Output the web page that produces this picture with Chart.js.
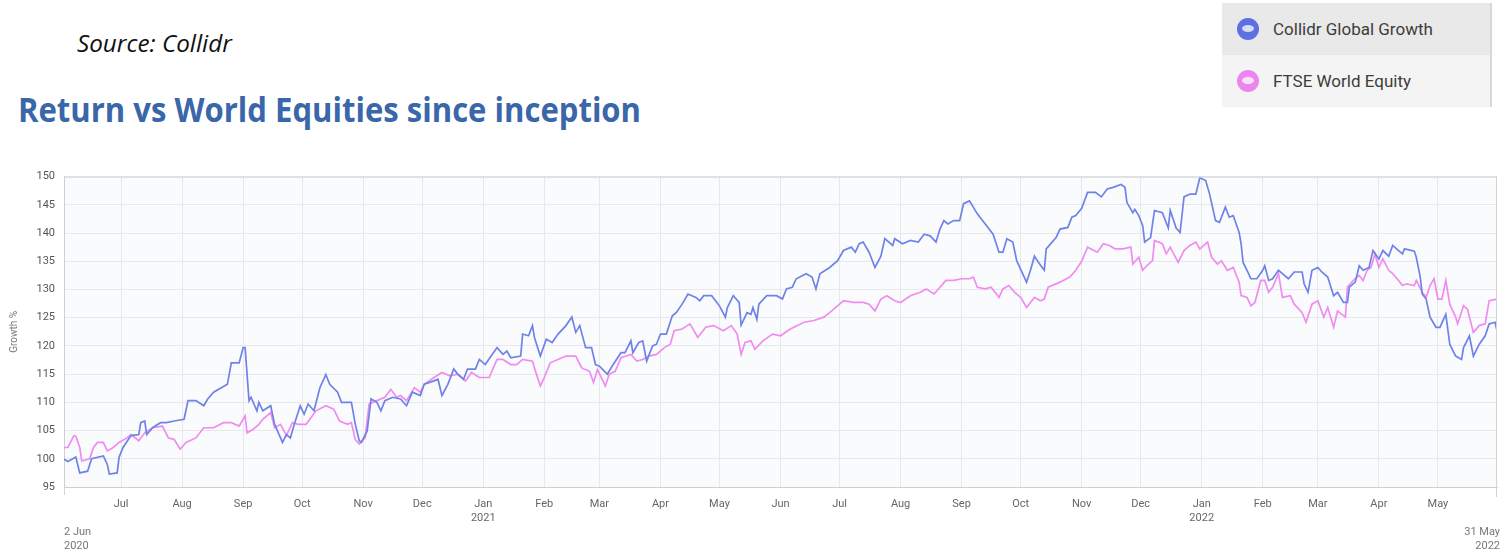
<!DOCTYPE html>
<html>
<head>
<meta charset="utf-8">
<script src="https://cdn.jsdelivr.net/npm/chart.js@4.4.1/dist/chart.umd.min.js"></script>
<style>
  body { margin: 0; width: 1507px; height: 550px; background: #fff; position: relative; overflow: hidden; font-family: Roboto, "Noto Sans", sans-serif; }
  .fit { position: absolute; white-space: nowrap; transform-origin: 0 0; line-height: 1; }
  #source { left: 77px; top: 27px; font: italic 23px "Open Sans", sans-serif; color: #111; }
  #title { left: 18px; top: 86px; font: bold 34px "Open Sans", sans-serif; color: #3a66aa; }
  #legend { position: absolute; left: 1222px; top: 3px; width: 268px; height: 104px; background: #f4f4f4; border-right: 2px solid #d8d8d8; }
  .row { height: 52px; display: flex; align-items: center; font-size: 17px; color: #3c3c3c; }
  .row:first-child { background: #e9e9e9; }
  .dot { width: 22px; height: 22px; border-radius: 50%; margin: 0 14px 0 15px; position: relative; }
  .dot::after { content: ""; position: absolute; left: 5px; top: 7px; width: 12px; height: 7px; border-radius: 50%; background: rgba(255,255,255,0.75); }
  #wrap { position: absolute; left: 0; top: 161px; width: 1507px; height: 389px; }
</style>
</head>
<body>
<div id="source" class="fit">Source: Collidr</div>
<div id="title" class="fit">Return vs World Equities since inception</div>
<div id="legend">
  <div class="row"><span class="dot" style="background:#5c70e2"></span>Collidr Global Growth</div>
  <div class="row"><span class="dot" style="background:#ea86ec"></span>FTSE World Equity</div>
</div>
<div id="wrap"><canvas id="chart"></canvas></div>
<script>
// days since 2 Jun 2020
const growthDays = [0, 2, 6, 8, 12, 14, 20, 22, 23, 27, 28, 30, 34, 38, 39, 41, 42, 45, 49, 52, 56, 61, 63, 67, 71, 73, 76, 79, 83, 85, 89, 91, 92, 94, 95, 98, 99, 101, 105, 107, 111, 113, 115, 117, 120, 122, 124, 127, 130, 133, 135, 139, 141, 146, 148, 150, 151, 154, 156, 159, 161, 163, 167, 171, 174, 177, 181, 183, 188, 190, 192, 195, 198, 200, 203, 205, 209, 211, 214, 217, 220, 223, 225, 227, 232, 233, 236, 238, 239, 242, 245, 248, 251, 255, 258, 260, 262, 265, 268, 270, 272, 276, 279, 283, 285, 288, 289, 292, 294, 296, 299, 301, 303, 306, 309, 311, 314, 317, 321, 323, 325, 329, 333, 336, 337, 340, 343, 344, 347, 349, 350, 352, 353, 357, 362, 365, 367, 370, 372, 377, 380, 382, 384, 389, 393, 396, 400, 402, 404, 406, 409, 412, 415, 417, 421, 422, 426, 430, 434, 437, 440, 443, 445, 447, 449, 452, 455, 457, 460, 464, 468, 472, 475, 477, 479, 482, 484, 487, 489, 491, 493, 495, 498, 499, 504, 506, 510, 512, 514, 517, 520, 524, 527, 530, 533, 537, 539, 540, 543, 544, 546, 548, 549, 552, 554, 558, 561, 562, 565, 567, 569, 572, 575, 577, 580, 582, 585, 587, 590, 592, 594, 597, 598, 599, 601, 603, 606, 609, 610, 612, 614, 617, 619, 622, 625, 629, 630, 632, 634, 637, 639, 642, 645, 647, 650, 652, 653, 656, 658, 660, 663, 665, 668, 670, 673, 675, 678, 680, 681, 686, 687, 689, 690, 692, 694, 697, 699, 702, 704, 707, 710, 711, 714, 716, 719, 722, 724, 727, 728];
const growthValues = [99.9, 99.5, 100.3, 97.5, 97.8, 100, 100.5, 99, 97.3, 97.5, 100.3, 102, 104.1, 104.3, 106.4, 106.7, 104.3, 105.5, 106.4, 106.4, 106.7, 107, 110.3, 110.3, 109.4, 110.6, 111.8, 112.4, 113.2, 117, 117, 119.7, 119.7, 110.3, 110.9, 108.5, 110, 108.5, 109.4, 106.1, 102.9, 104.3, 103.7, 106.1, 109.4, 107.9, 109.7, 108.5, 112.6, 114.9, 113.2, 111.8, 110, 110, 106.1, 103.2, 102.9, 104.9, 110.6, 110, 108.5, 110.3, 110.9, 110.6, 109.4, 111.8, 111.2, 113.2, 113.8, 114.1, 111.2, 113.2, 115.9, 115, 114.1, 115.9, 115.9, 117.6, 116.7, 118.2, 119.7, 118.5, 119.1, 117.9, 118.2, 122.1, 121.8, 123.6, 121.5, 118.2, 121.2, 120.6, 122.1, 123.6, 125.1, 122.4, 123.6, 119.7, 119.7, 116.7, 116.4, 115, 116.7, 118.8, 118.8, 120.9, 118.8, 120.6, 120.9, 117.3, 120, 120.3, 122.1, 122.1, 125.3, 125.9, 127.4, 129.2, 128.6, 128, 128.9, 128.9, 127.1, 125.1, 126.8, 128.9, 127.7, 123.7, 125.9, 125.6, 126.8, 124.7, 127.4, 128.9, 128.9, 128.3, 130.1, 130.4, 131.9, 132.8, 132.2, 130.1, 132.8, 133.9, 135.1, 136.9, 137.5, 136.6, 138.1, 138.4, 136.6, 133.9, 135.9, 139, 137.8, 139, 138.1, 138.7, 138.4, 139.8, 139.5, 138.4, 140.7, 142.2, 141.6, 142.2, 142.2, 145.2, 145.7, 143.4, 141.6, 139.8, 136.6, 136.6, 139, 138.4, 135.1, 132.8, 131.3, 133.4, 135.9, 134.8, 133.4, 137.2, 139.2, 140.7, 141, 142.8, 143.1, 144.4, 147.2, 147.2, 146.4, 147.8, 148.1, 148.6, 148.1, 145.4, 143.6, 144.2, 143.1, 141.3, 138.4, 139.2, 144, 143.6, 140.9, 144, 140.9, 140.1, 146.4, 146.9, 146.9, 149.8, 149.3, 146.9, 142.2, 141.9, 144.6, 142.8, 143.1, 140.1, 138.1, 134.8, 133.4, 131.9, 131.9, 133.4, 134.2, 131.6, 131.9, 133.4, 132.8, 131.9, 133.1, 133.1, 131, 129.5, 133.4, 133.9, 133.1, 132.2, 128.9, 129.5, 127.7, 127.7, 130.4, 131.3, 134.2, 133.4, 133.9, 136.9, 135.4, 136.9, 135.9, 137.8, 136.9, 136.3, 137.2, 136.8, 135.7, 132.2, 129.2, 128.3, 125.1, 123.3, 123.3, 125.6, 120.3, 118.2, 117.6, 119.7, 121.8, 118.2, 120.3, 121.8, 123.9, 124.2, 122.7];

const equityDays = [0, 2, 5, 6, 8, 9, 13, 15, 17, 20, 22, 25, 28, 32, 34, 38, 41, 45, 50, 53, 56, 59, 62, 67, 71, 76, 81, 85, 89, 92, 93, 96, 99, 101, 105, 107, 110, 113, 116, 119, 123, 128, 133, 137, 140, 144, 146, 148, 150, 153, 155, 159, 163, 166, 169, 171, 174, 178, 181, 183, 188, 192, 196, 200, 204, 207, 211, 216, 220, 223, 227, 230, 233, 238, 240, 242, 244, 247, 251, 255, 260, 263, 267, 269, 271, 275, 277, 280, 283, 288, 291, 294, 297, 301, 305, 308, 310, 314, 318, 322, 326, 330, 335, 339, 342, 344, 346, 349, 351, 355, 360, 364, 369, 376, 381, 386, 389, 394, 396, 401, 406, 409, 412, 415, 418, 422, 425, 430, 435, 438, 442, 445, 448, 452, 456, 460, 462, 464, 468, 471, 475, 477, 480, 483, 486, 489, 493, 496, 498, 500, 506, 511, 514, 517, 520, 525, 528, 531, 534, 538, 542, 543, 546, 548, 550, 553, 554, 558, 560, 562, 566, 569, 572, 575, 577, 581, 583, 586, 588, 591, 594, 597, 598, 601, 603, 605, 608, 610, 612, 614, 617, 619, 623, 625, 629, 631, 634, 637, 640, 642, 645, 647, 651, 652, 655, 658, 660, 662, 664, 666, 668, 670, 673, 675, 678, 680, 682, 686, 687, 690, 692, 694, 696, 698, 700, 702, 704, 707, 708, 711, 713, 716, 719, 722, 724, 728];
const equityValues = [102, 102, 104.1, 104, 102, 99.6, 100, 102, 102.9, 102.9, 101.4, 102, 102.9, 103.7, 104.3, 103.2, 104.6, 105.5, 105.8, 103.7, 103.4, 101.7, 102.9, 103.7, 105.5, 105.5, 106.4, 106.4, 105.8, 107.6, 104.6, 105.2, 106.1, 107, 108.2, 105.5, 106.1, 104.1, 106.4, 106.1, 106.1, 108.5, 109.4, 108.8, 106.7, 106.1, 106.4, 103.4, 102.6, 103.7, 109.7, 110.3, 110.9, 112.3, 110.9, 111.2, 110.3, 112.6, 111.8, 113.2, 114.4, 115.3, 114.7, 115, 113.8, 115.3, 114.4, 114.4, 117.6, 117.6, 116.7, 116.7, 117.6, 117.3, 115, 112.9, 114.4, 117, 117.6, 118.2, 118.2, 116.1, 115.5, 113.5, 115.8, 112.9, 115, 115.5, 117.9, 118.5, 117.3, 117.6, 118.2, 118.5, 119.7, 120.3, 122.7, 123, 123.9, 121.5, 123.3, 123.6, 122.7, 123.6, 122.1, 118.5, 120.6, 120.9, 119.4, 120.9, 122.1, 121.8, 123, 124.2, 124.5, 125.1, 125.9, 127.4, 128, 127.7, 127.7, 127.4, 126.2, 128.3, 128.9, 128, 127.7, 128.9, 129.5, 130.1, 129.2, 130.4, 131.6, 131.6, 131.9, 131.9, 132.2, 130.4, 130.1, 130.4, 128.6, 130.1, 130.7, 129.5, 128.6, 126.8, 128.6, 128, 128.3, 130.4, 131.3, 132.2, 133.4, 135, 137.5, 136.6, 138.1, 137.8, 137.2, 137.2, 137.5, 134.5, 135.7, 133.4, 134.2, 135.1, 138.7, 138.1, 136.3, 137.5, 134.8, 136.9, 137.8, 138.4, 137.2, 138.4, 135.7, 134.5, 135.1, 133.4, 133.9, 131.3, 128.9, 128.6, 127.1, 127.7, 131.6, 131.6, 129.5, 130.4, 132.8, 128.6, 128.9, 127.4, 125.9, 124.2, 127.4, 128, 125.1, 126.8, 123.3, 126.2, 125.1, 130.4, 131.6, 132.5, 131.6, 133.4, 133.9, 136.3, 133.9, 135.4, 133.4, 132.8, 131.6, 130.7, 131, 130.7, 131.6, 129.5, 128.6, 130.7, 131.9, 128.3, 128.3, 131.6, 127.4, 125.1, 123.9, 127.1, 126.5, 122.4, 123.6, 123.9, 128, 128.3];

const monthDays = [29, 60, 91, 121, 152, 182, 213, 244, 272, 303, 333, 364, 394, 425, 456, 486, 517, 547, 578, 609, 637, 668, 698];
const monthLabels = ['Jul', 'Aug', 'Sep', 'Oct', 'Nov', 'Dec', ['Jan', '2021'], 'Feb', 'Mar', 'Apr', 'May', 'Jun', 'Jul', 'Aug', 'Sep', 'Oct', 'Nov', 'Dec', ['Jan', '2022'], 'Feb', 'Mar', 'Apr', 'May'];
const startLabel = ['2 Jun', '2020'];
const endLabel = ['31 May', '2022'];

// squeeze html headings to the widths they have in the picture
function fitWidth(id, w) {
    const el = document.getElementById(id);
    el.style.transform = 'scaleX(' + (w / el.offsetWidth) + ')';
}
fitWidth('source', 155);
fitWidth('title', 623);

const toPoints = (days, vals) => days.map((d, i) => ({ x: d, y: vals[i] }));

const plotFrame = {
    id: 'plotFrame',
    beforeDraw(chart) {
        const a = chart.chartArea, ctx = chart.ctx;
        ctx.save();
        ctx.fillStyle = '#fafbfd';
        ctx.fillRect(a.left, a.top, a.right - a.left, a.bottom - a.top);
        ctx.restore();
    },
    afterDraw(chart) {
        const a = chart.chartArea, ctx = chart.ctx;
        ctx.save();
        ctx.strokeStyle = '#d4d4d4';
        ctx.lineWidth = 1;
        ctx.beginPath();
        ctx.moveTo(a.left, a.top + 0.5); ctx.lineTo(a.right, a.top + 0.5);
        ctx.moveTo(a.right - 0.5, a.top); ctx.lineTo(a.right - 0.5, a.bottom + 10);
        ctx.moveTo(a.left + 0.5, a.bottom); ctx.lineTo(a.left + 0.5, a.bottom + 8);
        ctx.stroke();
        ctx.fillStyle = '#777';
        ctx.font = '11px Roboto';
        ctx.textBaseline = 'middle';
        ctx.textAlign = 'left';
        ctx.fillText(startLabel[0], a.left, a.bottom + 45);
        ctx.fillText(startLabel[1], a.left, a.bottom + 59);
        ctx.textAlign = 'right';
        ctx.fillText(endLabel[0], a.right + 3, a.bottom + 45);
        ctx.fillText(endLabel[1], a.right + 3, a.bottom + 59);
        ctx.restore();
    }
};

new Chart(document.getElementById('chart'), {
    type: 'line',
    data: {
        datasets: [
            { label: 'Collidr Global Growth', data: toPoints(growthDays, growthValues), borderColor: '#6f82e8', borderWidth: 1.7, pointRadius: 0, tension: 0 },
            { label: 'FTSE World Equity', data: toPoints(equityDays, equityValues), borderColor: '#f08cf0', borderWidth: 1.7, pointRadius: 0, tension: 0 }
        ]
    },
    options: {
        responsive: true,
        maintainAspectRatio: false,
        animation: false,
        layout: { padding: { top: 7, right: 10, left: 8, bottom: 0 } },
        plugins: { legend: { display: false }, tooltip: { enabled: false } },
        scales: {
            x: {
                type: 'linear',
                min: 0,
                max: 728,
                afterBuildTicks(scale) { scale.ticks = monthDays.map(v => ({ value: v })); },
                afterFit(scale) { scale.height = 63; },
                ticks: {
                    autoSkip: false,
                    maxRotation: 0,
                    padding: 11,
                    color: '#666',
                    font: { family: 'Roboto', size: 11 },
                    callback: (v, i) => monthLabels[i]
                },
                grid: { color: '#e8e8ec', drawTicks: false },
                border: { color: '#cfcfcf' }
            },
            y: {
                min: 95,
                max: 150,
                afterFit(scale) { scale.width = 56; },
                ticks: {
                    stepSize: 5,
                    padding: 9,
                    color: '#555',
                    font: { family: 'Roboto', size: 11 }
                },
                title: { display: true, text: 'Growth %', color: '#777', font: { family: 'Roboto', size: 10 }, padding: 0 },
                grid: { color: '#e8e8ec', drawTicks: false },
                border: { color: '#cfcfcf' }
            }
        }
    },
    plugins: [plotFrame]
});
</script>
</body>
</html>
